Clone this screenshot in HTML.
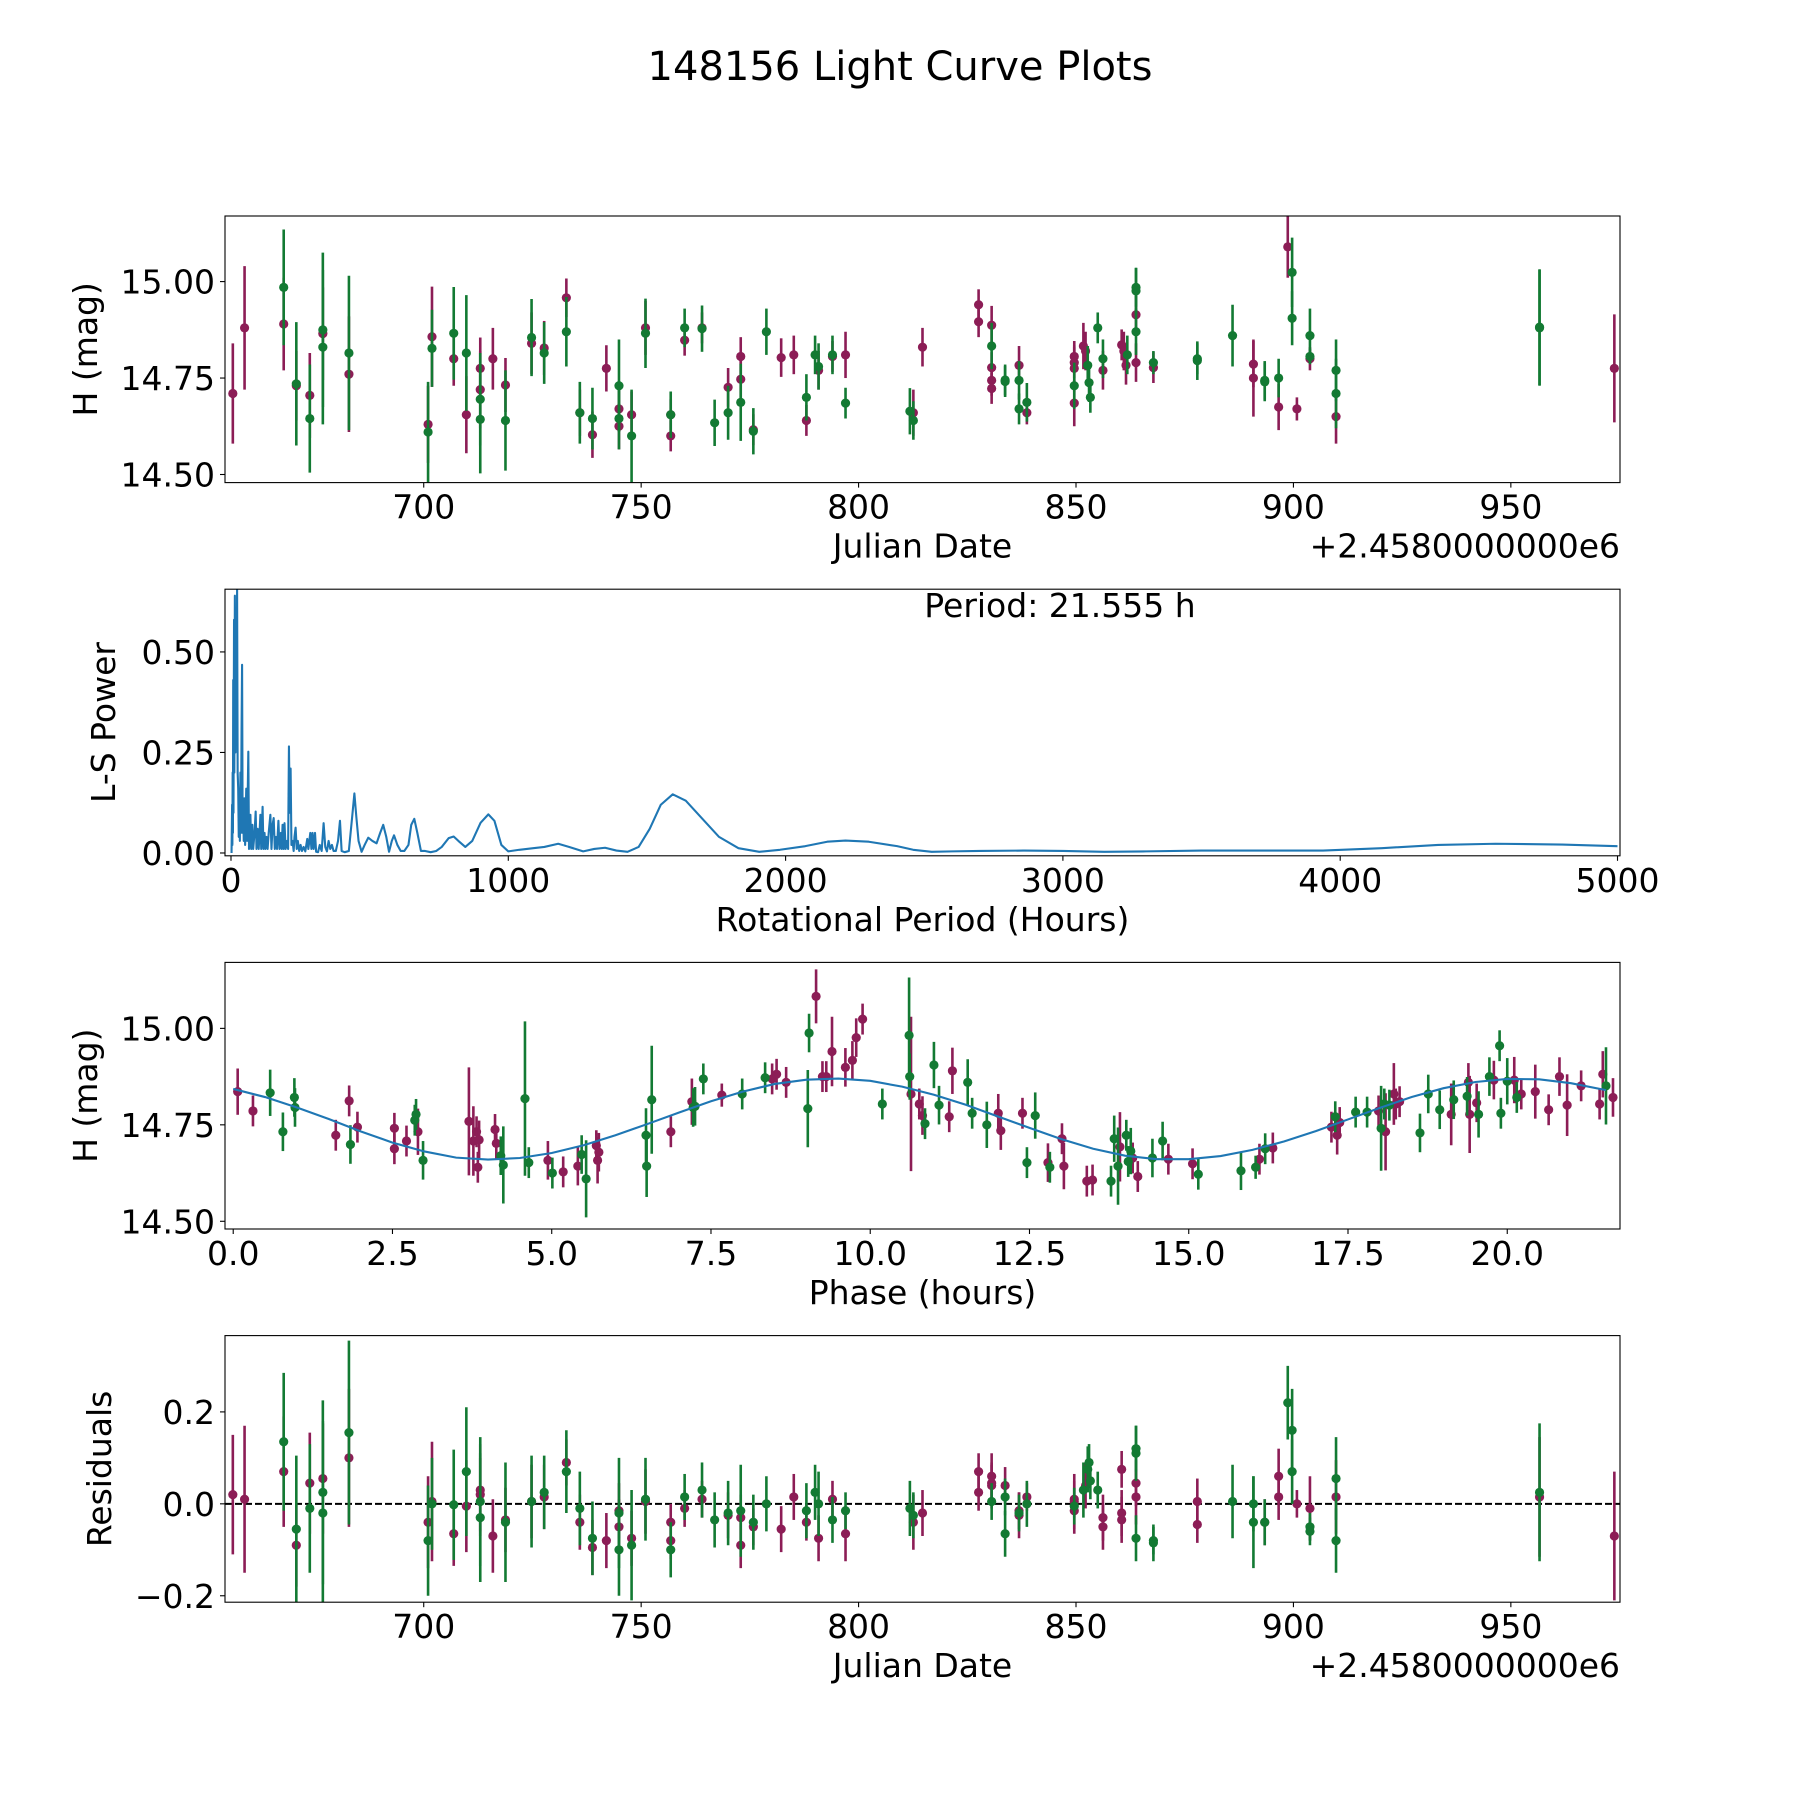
<!DOCTYPE html>
<html><head><meta charset="utf-8"><title>148156 Light Curve Plots</title>
<style>html,body{margin:0;padding:0;background:#fff}svg{display:block}text{font-family:"DejaVu Sans","Liberation Sans",sans-serif;fill:#000}</style>
</head><body>
<svg id="fig" xmlns="http://www.w3.org/2000/svg" width="1800" height="1800" viewBox="0 0 1800 1800">
<rect width="1800" height="1800" fill="#fff"/>
<text x="900" y="80" font-size="40" text-anchor="middle">148156 Light Curve Plots</text>
</svg>
<script>
// ---------- data ----------
const rawDates=[656.1,658.8,667.8,667.8,670.7,670.7,673.8,673.8,676.8,676.8,676.8,682.8,682.8,701,701,701.9,701.9,706.9,706.9,709.8,709.8,713,713,713,713,715.9,718.8,718.8,724.8,724.8,727.7,727.7,732.8,732.8,735.9,735.9,738.8,738.8,742,744.9,744.9,744.9,744.9,747.8,747.8,751,751,756.8,756.8,756.8,760,760,764,764,766.9,770,770,772.9,772.9,772.9,775.8,775.8,778.8,782.2,785.1,788,788,790,790.8,790.8,794,794,797,797,811.8,812.6,812.6,814.7,827.6,827.6,830.6,830.6,830.6,830.6,830.6,833.7,833.7,836.9,836.9,836.9,838.7,838.7,849.6,849.6,849.6,849.6,849.6,851.7,852.2,852.7,853,853.3,855,856.2,856.2,860.5,861,861.5,861.8,863.8,863.8,863.8,863.8,863.8,867.8,867.8,877.9,877.9,886,890.8,890.8,893.4,893.4,896.6,896.6,898.7,899.7,899.7,900.8,903.8,903.8,903.8,909.8,909.8,909.8,956.6,956.6,973.8];
const rawMags=[14.71,14.88,14.89,14.985,14.73,14.735,14.705,14.645,14.865,14.875,14.83,14.76,14.815,14.63,14.61,14.857,14.827,14.80,14.866,14.655,14.815,14.775,14.72,14.695,14.643,14.80,14.732,14.64,14.84,14.855,14.828,14.815,14.958,14.87,14.66,14.66,14.603,14.645,14.775,14.67,14.625,14.73,14.645,14.655,14.6,14.88,14.866,14.655,14.6,14.655,14.848,14.88,14.88,14.878,14.634,14.726,14.66,14.806,14.747,14.687,14.616,14.612,14.87,14.803,14.81,14.64,14.70,14.81,14.77,14.78,14.806,14.81,14.685,14.81,14.664,14.66,14.64,14.83,14.94,14.896,14.777,14.744,14.723,14.887,14.833,14.741,14.745,14.67,14.783,14.744,14.66,14.687,14.806,14.79,14.775,14.73,14.685,14.833,14.82,14.783,14.738,14.70,14.88,14.80,14.77,14.836,14.82,14.783,14.81,14.985,14.976,14.914,14.87,14.79,14.79,14.777,14.80,14.795,14.86,14.786,14.75,14.744,14.74,14.675,14.75,15.09,15.024,14.905,14.67,14.86,14.806,14.80,14.77,14.65,14.71,14.88,14.882,14.775];
const rawErrs=[.13,.16,.12,.15,.09,.16,.11,.14,.12,.2,.2,.15,.2,.1,.13,.13,.1,.07,.12,.1,.15,.08,.1,.12,.14,.08,.07,.13,.08,.1,.07,.08,.05,.09,.06,.08,.06,.08,.06,.06,.06,.12,.08,.06,.12,.07,.09,.04,.04,.06,.04,.05,.04,.06,.06,.05,.07,.05,.05,.1,.04,.06,.06,.05,.05,.04,.06,.05,.05,.06,.04,.05,.04,.06,.06,.06,.05,.05,.04,.04,.04,.04,.04,.05,.06,.04,.04,.04,.05,.05,.03,.05,.04,.04,.06,.06,.06,.06,.05,.05,.05,.04,.04,.05,.05,.04,.05,.05,.05,.05,.06,.05,.06,.05,.03,.04,.04,.05,.08,.06,.1,.05,.05,.06,.05,.08,.09,.07,.03,.07,.02,.03,.08,.07,.09,.15,.15,.14];
const rawFilters="mmmgmgmgmggmgmgmgmgmgmmggmmgmgmgmgmgmgmmmggmgmgmmgmgmggmgmmgmggmmmggmgmggmgmgmmmmmmmggggmgmgmmmgmmmgggggmmmmgggmgmgmgggmmggmgmggmggmgmgggmgmgmmmgggmmgmgm";
const resDates=[656.1,658.8,667.8,667.8,670.7,670.7,673.8,673.8,676.8,676.8,676.8,682.8,682.8,701,701,701.9,701.9,706.9,706.9,709.8,709.8,713,713,713,713,715.9,718.8,718.8,724.8,724.8,727.7,727.7,732.8,732.8,735.9,735.9,738.8,738.8,742,744.9,744.9,744.9,744.9,747.8,747.8,751,751,756.8,756.8,756.8,760,760,764,764,766.9,770,770,772.9,772.9,772.9,775.8,775.8,778.8,782.2,785.1,788,788,790,790.8,790.8,794,794,797,797,811.8,812.6,812.6,814.7,827.6,827.6,830.6,830.6,830.6,830.6,833.7,833.7,833.7,836.9,836.9,836.9,838.7,838.7,849.6,849.6,849.6,849.6,851.7,852.2,852.7,853,853.3,855,856.2,856.2,860.5,860.5,860.5,863.8,863.8,863.8,863.8,863.8,867.8,867.8,877.9,877.9,886,890.8,890.8,893.4,893.4,896.6,896.6,898.7,899.7,899.7,900.8,903.8,903.8,903.8,909.8,909.8,909.8,956.6,956.6,973.8];
const resVals=[.02,.01,.07,.135,-.055,-.09,.045,-.01,.055,.025,-.02,.10,.155,-.04,-.08,.005,0,-.065,-.002,-.005,.07,.02,.03,-.03,.005,-.07,-.035,-.04,.005,.005,.015,.025,.09,.07,-.04,-.01,-.095,-.075,-.08,-.015,-.05,-.1,-.02,-.075,-.09,.005,.01,-.04,-.08,-.1,-.01,.015,.01,.03,-.035,-.025,-.02,-.03,-.09,-.015,-.05,-.04,0,-.055,.015,-.04,-.015,.025,-.075,0,.01,-.035,-.015,-.065,-.01,-.04,-.025,-.02,.07,.025,.045,.04,.06,.005,.015,-.065,.04,-.02,-.025,-.015,0,.015,.01,-.005,.005,-.015,.03,.04,.075,.09,.05,.03,-.03,-.05,.075,-.02,-.035,.12,.11,.045,.015,-.075,-.08,-.085,-.045,.005,.005,0,-.04,-.04,-.04,.06,.015,.22,.16,.07,0,-.01,-.05,-.06,.015,-.08,.055,.015,.025,-.07];
const resErrs=[.13,.16,.12,.15,.16,.09,.11,.14,.12,.2,.2,.15,.2,.1,.12,.13,.1,.07,.12,.1,.14,.08,.1,.14,.14,.08,.07,.13,.08,.1,.07,.08,.05,.09,.06,.08,.06,.08,.06,.06,.06,.1,.12,.06,.12,.07,.09,.04,.04,.06,.04,.05,.04,.06,.06,.05,.07,.05,.05,.1,.04,.06,.06,.05,.05,.04,.06,.06,.05,.07,.04,.05,.04,.06,.06,.06,.05,.05,.04,.04,.04,.05,.05,.04,.04,.05,.04,.04,.05,.04,.05,.03,.04,.04,.06,.05,.06,.05,.05,.04,.04,.04,.05,.05,.04,.05,.05,.05,.06,.05,.06,.05,.03,.04,.04,.05,.08,.06,.1,.05,.05,.06,.05,.08,.09,.07,.03,.07,.03,.03,.08,.07,.09,.13,.15,.14];
const resFilters="mmmggmmgmggmgmgmgmgmgmmggmmgmgmgmgmgmgmmmggmgmgmmgmgmggmgmmgmggmmmggmgmggmgmgmmmmmmgggmgmmgmmgmmgmggggmmmmmggmmgggmmgggmgmmgggmmggmggmgmgmggmmgmgm";
const phaseHours=[0.07,0.31,0.58,0.78,0.96,0.97,1.61,1.82,1.84,1.95,2.53,2.53,2.72,2.85,2.87,2.90,2.98,3.70,3.77,3.82,3.84,3.86,4.11,4.13,4.20,4.24,4.58,4.64,4.94,5.01,5.18,5.41,5.47,5.54,5.70,5.72,5.74,6.48,6.49,6.57,6.87,7.20,7.22,7.25,7.38,7.67,7.99,8.35,8.46,8.53,8.68,9.02,9.04,9.15,9.25,9.31,9.40,9.61,9.72,9.78,9.88,10.19,10.61,10.62,10.64,10.77,10.82,10.86,11.00,11.08,11.24,11.29,11.53,11.60,11.83,12.01,12.05,12.39,12.46,12.59,12.79,12.82,13.01,13.04,13.40,13.49,13.78,13.83,13.89,13.92,14.02,14.05,14.09,14.12,14.20,14.43,14.59,14.68,15.06,15.15,15.82,16.05,16.11,16.20,16.32,17.24,17.30,17.33,17.37,17.62,17.80,17.98,18.02,18.07,18.09,18.15,18.22,18.25,18.31,18.63,18.76,18.94,19.12,19.16,19.37,19.39,19.41,19.52,19.55,19.72,19.79,19.88,19.90,20.00,20.11,20.15,20.22,20.44,20.65,20.82,20.94,21.16,21.45,21.50,21.55,21.66];
const phaseMags=[14.836,14.786,14.833,14.732,14.821,14.795,14.723,14.812,14.699,14.744,14.741,14.688,14.708,14.762,14.777,14.732,14.658,14.759,14.708,14.732,14.640,14.711,14.738,14.702,14.670,14.646,14.818,14.652,14.658,14.625,14.628,14.643,14.673,14.610,14.696,14.658,14.679,14.723,14.643,14.815,14.732,14.810,14.795,14.798,14.869,14.827,14.830,14.872,14.869,14.881,14.860,14.792,14.988,15.083,14.875,14.875,14.940,14.899,14.917,14.976,15.024,14.804,14.982,14.875,14.830,14.804,14.774,14.753,14.905,14.801,14.771,14.890,14.860,14.780,14.750,14.780,14.735,14.780,14.652,14.774,14.652,14.640,14.714,14.643,14.604,14.607,14.604,14.714,14.643,14.693,14.723,14.655,14.682,14.664,14.616,14.664,14.708,14.661,14.649,14.622,14.631,14.640,14.661,14.688,14.690,14.744,14.771,14.723,14.756,14.783,14.783,14.786,14.741,14.804,14.732,14.801,14.830,14.804,14.810,14.729,14.830,14.789,14.777,14.815,14.824,14.860,14.777,14.807,14.777,14.875,14.866,14.955,14.780,14.863,14.866,14.821,14.830,14.836,14.789,14.875,14.801,14.851,14.804,14.881,14.851,14.821];
const phaseErrs=[.06,.04,.06,.05,.05,.05,.04,.04,.05,.04,.04,.04,.04,.04,.04,.06,.05,.14,.09,.04,.04,.05,.04,.04,.05,.1,.2,.04,.05,.04,.04,.05,.05,.1,.04,.06,.05,.07,.08,.14,.04,.06,.05,.05,.04,.03,.04,.04,.04,.04,.04,.1,.05,.07,.04,.04,.09,.05,.05,.05,.04,.04,.15,.06,.2,.04,.05,.04,.06,.05,.04,.06,.06,.04,.06,.05,.05,.04,.04,.06,.05,.04,.04,.06,.04,.04,.04,.06,.1,.09,.04,.04,.06,.04,.04,.05,.05,.04,.04,.04,.05,.03,.04,.04,.04,.04,.04,.05,.04,.04,.04,.04,.11,.04,.1,.04,.08,.04,.04,.05,.05,.05,.08,.05,.05,.05,.1,.05,.06,.05,.05,.04,.04,.06,.06,.04,.04,.07,.04,.05,.08,.04,.04,.06,.1,.05,.04];
const phaseFilters="mmggggmmgmmmmggmgmmmmmmmggggmgmmggmmmgggmmgggmggmmmggmmmmmmmmgggmmmgggmmgggmmmggmgmmmmgggmgggmmggmmgggmgmmgmmggmggmgmmmgggmggmmmggmgggmgmmmmmmmmgm";
const modelPhase=[0,0.5,1,1.5,2,2.5,3,3.5,4,4.5,5,5.5,6,6.5,7,7.5,8,8.5,9,9.5,10,10.5,11,11.5,12,12.5,13,13.5,14,14.5,15,15.5,16,16.5,17,17.5,18,18.5,19,19.5,20,20.5,21,21.55];
const modelMags=[14.843,14.822,14.795,14.765,14.733,14.704,14.681,14.665,14.660,14.664,14.677,14.697,14.723,14.752,14.782,14.811,14.836,14.856,14.867,14.870,14.864,14.849,14.828,14.802,14.772,14.742,14.713,14.688,14.670,14.661,14.661,14.669,14.685,14.707,14.734,14.764,14.794,14.822,14.845,14.861,14.869,14.868,14.858,14.840];
const lsPeriod=[2,4,5,6,7,8,9,11,12,14,16,18,20,22,24,26,28,30,32,34,36,38,40,42,44,46,48,51,55,58,62.5,65,68,70,73,77,80,85,89,92,96,100,103,106,109,114,117,121,124,128,132,136,142,146,150,154,158,162,166,171,175,180,183,186,190,193,197,202,206,209,212,215,218,222,226,229,233,237,241,246,251,256,262,268,275,279,286,290,294,298,303,307,314,320,327,334,340,346,352,358,364,370,378,386,393,399,410,425,437,445,452,460,471,482,495,510,525,538,549,560,570,580,588,600,612,625,640,650,661,672,685,700,720,740,760,785,803,820,845,870,900,928,950,975,1000,1040,1090,1130,1180,1220,1270,1310,1349,1390,1430,1470,1510,1550,1593,1640,1700,1760,1830,1905,1980,2071,2150,2216,2300,2402,2460,2527,2600,2700,2859,3000,3149,3300,3500,3606,3800,3938,4150,4353,4560,4800,5000];
const lsPower=[0,.12,.02,.20,.05,.43,.1,.58,.2,.64,.25,.60,.3,.658,.2,.16,.04,.12,.03,.2,.05,.3,.468,.05,.12,.03,.136,.02,.16,.03,.252,.01,.06,.095,.01,.07,.01,.05,.103,.01,.06,.01,.05,.095,.01,.115,.01,.05,.01,.04,.01,.05,.095,.01,.07,.087,.01,.04,.01,.08,.01,.05,.01,.07,.01,.074,.01,.03,.01,.265,.1,.21,.02,.03,.005,.04,.063,.01,.03,.005,.02,.005,.015,.004,.035,.01,.05,.01,.05,.01,.05,.003,.002,.02,.005,.074,.015,.004,.03,.01,.02,.005,.005,.03,.08,.005,.002,.005,.09,.148,.09,.03,.003,.02,.038,.03,.024,.05,.07,.04,.003,.03,.044,.02,.005,.005,.02,.07,.085,.05,.005,.005,.002,.005,.015,.037,.041,.03,.015,.03,.075,.096,.08,.02,.004,.008,.012,.015,.023,.015,.004,.01,.013,.006,.003,.015,.06,.12,.146,.13,.085,.04,.012,.003,.008,.017,.028,.031,.028,.017,.008,.003,.004,.005,.006,.005,.003,.004,.006,.006,.006,.006,.012,.02,.023,.021,.017];
const jdTicks=[700,750,800,850,900,950];
const magTicks=[14.50,14.75,15.00];
const lsXTicks=[0,1000,2000,3000,4000,5000];
const lsYTicks=[0,0.25,0.5];
const phaseTicks=[0,2.5,5,7.5,10,12.5,15,17.5,20];
const resTicks=[-0.2,0,0.2];
const periodHours=21.555;

// ---------- helpers ----------
const NS="http://www.w3.org/2000/svg";
const svg=document.getElementById('fig');
const COL={m:'#8c1d56',g:'#137a33'};
function mk(tag,attrs,parent){const e=document.createElementNS(NS,tag);for(const k in attrs)e.setAttribute(k,attrs[k]);(parent||svg).appendChild(e);return e;}
function scale(d0,d1,r0,r1){return v=>r0+(v-d0)/(d1-d0)*(r1-r0);}
const L=225,R=1620,H=266.6;
const tops=[216,589.2,962.4,1335.6];

function axes(idx,name,xd,yd,xt,xfmt,yt,yfmt,xlabel,ylabel,ylabelX){
  const top=tops[idx],bot=top+H;
  const X=scale(xd[0],xd[1],L,R),Y=scale(yd[0],yd[1],bot,top);
  const g=mk('g',{});
  
  
  const cp=mk('clipPath',{id:'clip'+idx},g);
  mk('rect',{x:L,y:top,width:R-L,height:H},cp);
  const plot=mk('g',{'clip-path':'url(#clip'+idx+')'},g);
  
  
  xt.forEach(v=>{const x=X(v);
    const t=mk('line',{x1:x,x2:x,y1:bot,y2:bot+5,stroke:'#000','stroke-width':1.1},g);
    
    
    const l=mk('text',{x:x,y:bot+36,'font-size':33,'text-anchor':'middle'},g);l.textContent=xfmt(v);
    
    });
  yt.forEach(v=>{const y=Y(v);
    const t=mk('line',{x1:L-5,x2:L,y1:y,y2:y,stroke:'#000','stroke-width':1.1},g);
    
    
    const l=mk('text',{x:L-10,y:y+12,'font-size':33,'text-anchor':'end'},g);l.textContent=yfmt(v);
    
    });
  const xl=mk('text',{x:(L+R)/2,y:bot+75,'font-size':33,'text-anchor':'middle'},g);xl.textContent=xlabel;
  
  
  const cy=(top+bot)/2;
  const yl=mk('text',{x:ylabelX,y:cy,'font-size':33,'text-anchor':'middle',transform:'rotate(-90 '+ylabelX+' '+cy+')'},g);yl.textContent=ylabel;
  
  
  return {X,Y,plot,g,top,bot};
}
function frame(a){const f=mk('rect',{x:L,y:a.top,width:R-L,height:H,fill:'none',stroke:'#000','stroke-width':1.1},a.g);
  
  }
function errPoints(a,xs,ys,es,fs){
  ['m','g'].forEach(f=>{for(let i=0;i<xs.length;i++){if(fs[i]!==f)continue;
    const x=a.X(xs[i]);
    const b=mk('line',{x1:x,x2:x,y1:a.Y(ys[i]-es[i]),y2:a.Y(ys[i]+es[i]),stroke:COL[f],'stroke-width':2.6},a.plot);
    
    
    const c=mk('circle',{cx:x,cy:a.Y(ys[i]),r:4.6,fill:COL[f]},a.plot);
    
    }});
}
const f2=v=>v.toFixed(2), f1=v=>v.toFixed(1), f0=v=>String(v);
const fm=v=>(v<0?'\u2212':'')+Math.abs(v).toFixed(1);

// Panel 1: raw light curve
const a1=axes(0,'light-curve-panel',[654.3,975.1],[14.479,15.17],jdTicks,f0,magTicks,f2,'Julian Date','H (mag)',97);
errPoints(a1,rawDates,rawMags,rawErrs,rawFilters);
frame(a1);
let off=mk('text',{x:R,y:a1.bot+75,'font-size':33,'text-anchor':'end'},a1.g);off.textContent='+2.4580000000e6';



// Panel 2: periodogram
const a2=axes(1,'periodogram-panel',[-21.6,5009],[-0.007,0.656],lsXTicks,f0,lsYTicks,f2,'Rotational Period (Hours)','L-S Power',115);
let d='';lsPeriod.forEach((p,i)=>{d+=(i?'L':'M')+a2.X(p).toFixed(2)+' '+a2.Y(lsPower[i]).toFixed(2);});
const ln=mk('path',{d:d,fill:'none',stroke:'#1f77b4','stroke-width':2.1,'stroke-linejoin':'round'},a2.plot);


frame(a2);
const pt=mk('text',{x:1060,y:617,'font-size':33,'text-anchor':'middle'},a2.g);pt.textContent='Period: '+periodHours.toFixed(3)+' h';



// Panel 3: phased
const a3=axes(2,'phased-curve-panel',[-0.129,21.77],[14.48,15.171],phaseTicks,f1,magTicks,f2,'Phase (hours)','H (mag)',97);
errPoints(a3,phaseHours,phaseMags,phaseErrs,phaseFilters);
let d3='';modelPhase.forEach((p,i)=>{d3+=(i?'L':'M')+a3.X(p).toFixed(2)+' '+a3.Y(modelMags[i]).toFixed(2);});
const mc=mk('path',{d:d3,fill:'none',stroke:'#1f77b4','stroke-width':2.1},a3.plot);


frame(a3);

// Panel 4: residuals
const a4=axes(3,'residuals-panel',[654.3,975.1],[-0.214,0.366],jdTicks,f0,resTicks,fm,'Julian Date','Residuals',111);
const zl=mk('line',{x1:L,x2:R,y1:a4.Y(0),y2:a4.Y(0),stroke:'#000','stroke-width':2,'stroke-dasharray':'7,3'},a4.plot);


errPoints(a4,resDates,resVals,resErrs,resFilters);
frame(a4);
let off4=mk('text',{x:R,y:a4.bot+75,'font-size':33,'text-anchor':'end'},a4.g);off4.textContent='+2.4580000000e6';


</script>
</body></html>
